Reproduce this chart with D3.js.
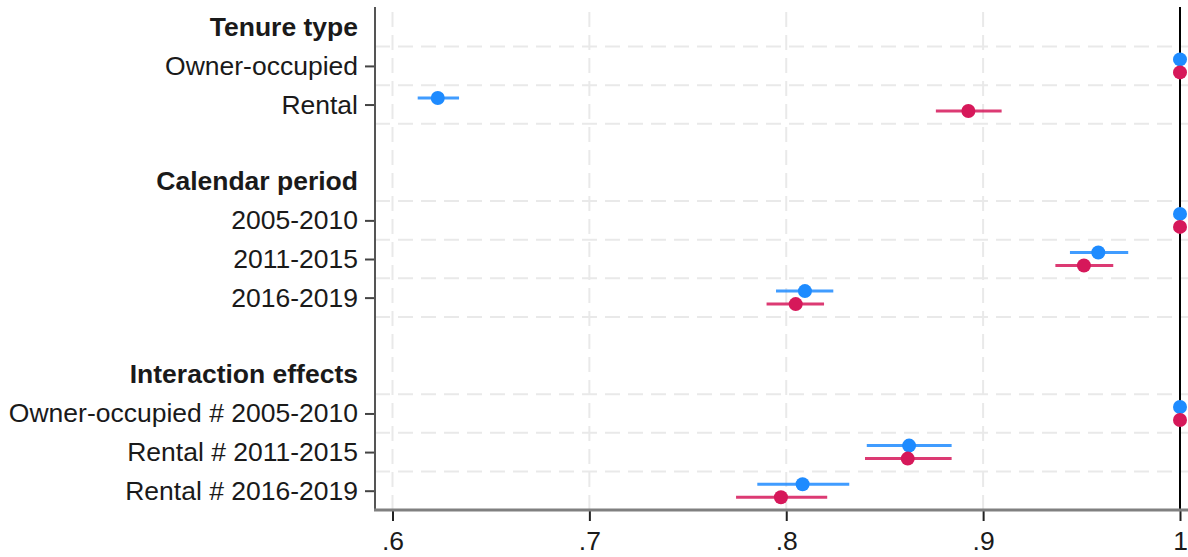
<!DOCTYPE html>
<html lang="en">
<head>
<meta charset="utf-8">
<title>Coefficient plot</title>
<script src="https://d3js.org/d3.v7.min.js"></script>
<style>
  body { margin: 0; background: #fff; }
  svg text { font-family: "Liberation Sans", Arial, sans-serif; fill: #1a1a1a; }
</style>
</head>
<body>
<svg id="chart" width="1188" height="557"></svg>
<script>
// rows from top to bottom: headers, coefficients, blank spacers
var rowLabels = ["Tenure type", "Owner-occupied", "Rental", "",
                 "Calendar period", "2005-2010", "2011-2015", "2016-2019", "",
                 "Interaction effects", "Owner-occupied # 2005-2010", "Rental # 2011-2015", "Rental # 2016-2019"];
var rowKinds = ["header", "coef", "coef", "blank",
                "header", "coef", "coef", "coef", "blank",
                "header", "coef", "coef", "coef"];

// first series (blue)
var blueEst = [null, 1, 0.623, null, null, 1, 0.9585, 0.8095, null, null, 1, 0.8624, 0.8083];
var blueLo  = [null, null, 0.6128, null, null, null, 0.9441, 0.7948, null, null, null, 0.8409, 0.7853];
var blueHi  = [null, null, 0.6338, null, null, null, 0.9737, 0.8239, null, null, null, 0.884, 0.832];
// second series (red)
var redEst = [null, 1, 0.8925, null, null, 1, 0.9512, 0.8048, null, null, 1, 0.8617, 0.7973];
var redLo  = [null, null, 0.876, null, null, null, 0.9367, 0.790, null, null, null, 0.840, 0.7745];
var redHi  = [null, null, 0.9094, null, null, null, 0.9661, 0.8192, null, null, null, 0.884, 0.8208];

var xTicks = [0.6, 0.7, 0.8, 0.9, 1];
var xTickLabels = [".6", ".7", ".8", ".9", "1"];

var svg = d3.select("#chart");
var axisX0 = 375, axisX1 = 1188, axisTop = 8, axisBottom = 510;
var fontSize = 26.5;

var x = d3.scaleLinear().domain([0.6, 1]).range([392.5, 1180]);
var y = d3.scalePoint().domain(d3.range(rowLabels.length)).range([axisTop, axisBottom]).padding(0.5);
var step = y.step();

var coefRows = d3.range(rowLabels.length).filter(function(i){ return rowKinds[i] == "coef"; });

// horizontal gridlines at the edges of each coefficient row
var gridY = [];
coefRows.forEach(function(i){
  [y(i) - step / 2, y(i) + step / 2].forEach(function(v){
    if (v < axisBottom - 2 && gridY.every(function(g){ return Math.abs(g - v) > 1; })) gridY.push(v);
  });
});
svg.append("g").selectAll("line").data(gridY).enter().append("line")
  .attr("x1", axisX0).attr("x2", axisX1)
  .attr("y1", function(d){ return d; }).attr("y2", function(d){ return d; })
  .attr("stroke", "#e9e9e9").attr("stroke-width", 2).attr("stroke-dasharray", "15,8");

// vertical gridlines
svg.append("g").selectAll("line").data(xTicks.slice(0, -1)).enter().append("line")
  .attr("x1", function(d){ return x(d); }).attr("x2", function(d){ return x(d); })
  .attr("y1", 12).attr("y2", axisBottom)
  .attr("stroke", "#e9e9e9").attr("stroke-width", 2).attr("stroke-dasharray", "15,8");

// reference line at 1
svg.append("line")
  .attr("x1", x(1)).attr("x2", x(1)).attr("y1", axisTop - 1).attr("y2", axisBottom)
  .attr("stroke", "#000").attr("stroke-width", 2);

// y axis
var yAxis = d3.axisLeft(y).tickValues(coefRows).tickSize(10).tickSizeOuter(0).tickPadding(7)
  .tickFormat(function(i){ return rowLabels[i]; });
var gy = svg.append("g").attr("transform", "translate(" + axisX0 + ",0)").call(yAxis);
gy.select(".domain").remove();
gy.selectAll(".tick line").attr("stroke", "#444").attr("stroke-width", 2);
gy.selectAll(".tick text").attr("font-size", fontSize).attr("font-family", "Liberation Sans, Arial, sans-serif").attr("fill", "#1a1a1a");
svg.append("line").attr("x1", axisX0).attr("x2", axisX0).attr("y1", axisTop - 1).attr("y2", axisBottom)
  .attr("stroke", "#555").attr("stroke-width", 2);

// group headers
svg.append("g").selectAll("text")
  .data(d3.range(rowLabels.length).filter(function(i){ return rowKinds[i] == "header"; }))
  .enter().append("text")
  .attr("x", axisX0 - 17).attr("y", function(i){ return y(i); }).attr("dy", "0.32em")
  .attr("text-anchor", "end").attr("font-size", fontSize).attr("font-weight", "bold")
  .text(function(i){ return rowLabels[i]; });

// x axis
var xAxis = d3.axisBottom(x).tickValues(xTicks).tickSize(11).tickSizeOuter(0).tickPadding(10)
  .tickFormat(function(d, i){ return xTickLabels[i]; });
var gx = svg.append("g").attr("transform", "translate(0," + axisBottom + ")").call(xAxis);
gx.select(".domain").remove();
gx.selectAll(".tick line").attr("stroke", "#222").attr("stroke-width", 2);
gx.selectAll(".tick text").attr("font-size", fontSize).attr("font-family", "Liberation Sans, Arial, sans-serif").attr("fill", "#1a1a1a");
svg.append("line").attr("x1", axisX0 - 1).attr("x2", axisX1).attr("y1", axisBottom).attr("y2", axisBottom)
  .attr("stroke", "#808080").attr("stroke-width", 3);

// series
var series = [
  { est: blueEst, lo: blueLo, hi: blueHi, color: "#1e8bff", off: -6.5 },
  { est: redEst, lo: redLo, hi: redHi, color: "#d6185a", off: 6.5 }
];
series.forEach(function(s){
  var g = svg.append("g");
  var idx = coefRows;
  g.selectAll("line").data(idx.filter(function(i){ return s.lo[i] != null; })).enter().append("line")
    .attr("x1", function(i){ return x(s.lo[i]); }).attr("x2", function(i){ return x(s.hi[i]); })
    .attr("y1", function(i){ return y(i) + s.off; }).attr("y2", function(i){ return y(i) + s.off; })
    .attr("stroke", s.color).attr("stroke-width", 3).attr("stroke-opacity", 0.85);
  g.selectAll("circle").data(idx).enter().append("circle")
    .attr("cx", function(i){ return x(s.est[i]); })
    .attr("cy", function(i){ return y(i) + s.off; })
    .attr("r", 7).attr("fill", s.color);
});
</script>
</body>
</html>
